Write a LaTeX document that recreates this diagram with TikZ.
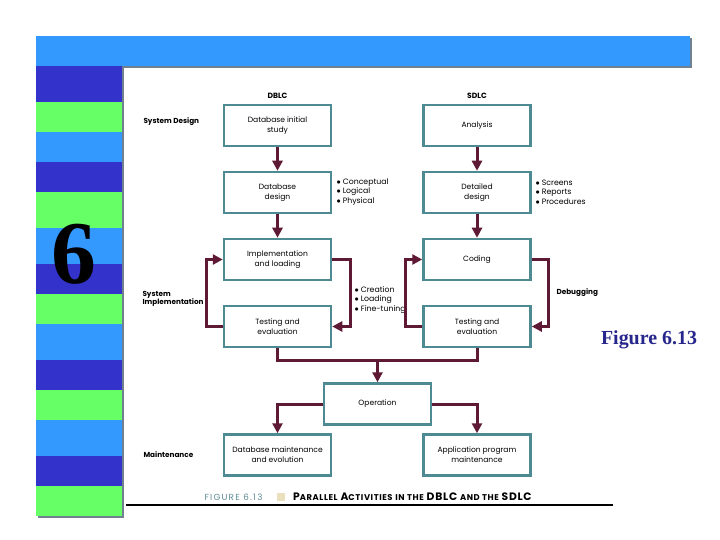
\documentclass[tikz,border=0pt]{standalone}
\usepackage{fontspec}
\setmainfont{Poppins}
\newfontfamily\timesfont{Liberation Serif}
\usetikzlibrary{arrows.meta}
\definecolor{barblue}{RGB}{51,153,255}
\definecolor{darkblue}{RGB}{51,51,204}
\definecolor{stripegreen}{RGB}{102,255,102}
\definecolor{shadowgray}{RGB}{112,128,144}
\definecolor{boxteal}{RGB}{78,138,146}
\definecolor{arrowred}{RGB}{94,26,52}
\definecolor{navytext}{RGB}{38,38,140}
\definecolor{captionteal}{RGB}{92,140,150}
\definecolor{tagbeige}{RGB}{234,224,190}
\newcommand{\capword}[2]{{\fontsize{10.8}{10}\selectfont #1}{\fontsize{8.4}{10}\selectfont #2}}

\begin{document}
\begin{tikzpicture}[x=1bp, y=-1bp,
		stage/.style={draw=boxteal, line width=2.5bp, fill=white, minimum width=107bp, minimum height=41bp, inner sep=0pt, align=center, font=\fontsize{7.6}{10}\selectfont},
		flow/.style={draw=arrowred, line width=3bp, -{Triangle[length=10bp, width=10bp]}},
		link/.style={draw=arrowred, line width=3bp},
		phase/.style={anchor=west, align=left, font=\fontsize{7.3}{9}\selectfont\bfseries},
		bullets/.style={anchor=west, align=left, font=\fontsize{7.8}{9.5}\selectfont}]
			%%%%% START %%%%%
			\useasboundingbox (0, 0) rectangle (720, 540);
			\fill[white] (0, 0) rectangle (720, 540);
			
			% bar and column, with shadow
			\fill[shadowgray] (38, 38) rectangle (692, 68.5);
			\fill[shadowgray] (38, 68) rectangle (124, 518);
			\fill[barblue] (36, 36) rectangle (690, 66);
			
			\fill[darkblue] (36, 66) rectangle (122, 102);
			\fill[stripegreen] (36, 102) rectangle (122, 132);
			\fill[barblue] (36, 132) rectangle (122, 162);
			\fill[darkblue] (36, 162) rectangle (122, 192);
			\fill[stripegreen] (36, 192) rectangle (122, 228);
			\fill[barblue] (36, 228) rectangle (122, 264);
			\fill[darkblue] (36, 264) rectangle (122, 294);
			\fill[stripegreen] (36, 294) rectangle (122, 324);
			\fill[barblue] (36, 324) rectangle (122, 360);
			\fill[darkblue] (36, 360) rectangle (122, 390);
			\fill[stripegreen] (36, 390) rectangle (122, 420);
			\fill[barblue] (36, 420) rectangle (122, 456);
			\fill[darkblue] (36, 456) rectangle (122, 486);
			\fill[stripegreen] (36, 486) rectangle (122, 516);
			
			\node[font=\timesfont\bfseries\fontsize{90}{90}\selectfont] (chap) at (74, 254) {6};
			\node[font=\timesfont\bfseries\fontsize{20}{24}\selectfont, text=navytext] (fig) at (649, 340) {Figure 6.13};
			
			% phases
			\node[phase] (design) at (140, 122) {System Design};
			\node[phase] (impl) at (139, 298.5) {System\\[-1pt]Implementation};
			\node[phase] (maint) at (140, 455) {Maintenance};
			
			\node[font=\fontsize{7.6}{8}\selectfont\bfseries] (dblc) at (277.5, 96) {DBLC};
			\node[font=\fontsize{7.6}{8}\selectfont\bfseries] (sdlc) at (477, 96) {SDLC};
			
			% DBLC column
			\node[stage] (db1) at (277.5, 125.5) {Database initial\\study};
			\node[stage] (db2) at (277.5, 192.5) {Database\\design};
			\node[stage] (db3) at (277.5, 259.5) {Implementation\\and loading};
			\node[stage] (db4) at (277.5, 326.5) {Testing and\\evaluation};
			
			% SDLC column
			\node[stage] (sd1) at (477, 125.5) {Analysis};
			\node[stage] (sd2) at (477, 192.5) {Detailed\\design};
			\node[stage] (sd3) at (477, 259.5) {Coding};
			\node[stage] (sd4) at (477, 326.5) {Testing and\\evaluation};
			
			\node[stage] (op) at (377.5, 404) {Operation};
			\node[stage] (dbm) at (277.5, 455) {Database maintenance\\and evolution};
			\node[stage] (apm) at (477, 455) {Application program\\maintenance};
			
			\node[bullets] (dbdesign) at (333, 192) {$\bullet$ Conceptual\\$\bullet$ Logical\\$\bullet$ Physical};
			\node[bullets] (sddesign) at (532, 192) {$\bullet$ Screens\\$\bullet$ Reports\\$\bullet$ Procedures};
			\node[bullets] (dbimpl) at (351, 300) {$\bullet$ Creation\\$\bullet$ Loading\\$\bullet$ Fine-tuning};
			\node[phase] (debug) at (553, 293) {Debugging};
			
			% connectors
			\draw[flow] (db1) -- (db2);
			\draw[flow] (db2) -- (db3);
			\draw[flow] (db3.east) -- ++(18, 0) |- (db4.east);
			\draw[flow] (db4.west) -- ++(-16, 0) |- (db3.west);
			
			\draw[flow] (sd1) -- (sd2);
			\draw[flow] (sd2) -- (sd3);
			\draw[flow] (sd3.east) -- ++(17, 0) |- (sd4.east);
			\draw[flow] (sd4.west) -- ++(-17, 0) |- (sd3.west);
			
			\coordinate (join) at (377.5, 360);
			\draw[link] (db4.south) |- (join) -| (sd4.south);
			\draw[flow] (join) -- (op);
			\draw[flow] (op.west) -| (dbm.north);
			\draw[flow] (op.east) -| (apm.north);
			
			% caption
			\node[anchor=west, text=captionteal, font=\fontsize{8.8}{9}\selectfont\addfontfeature{LetterSpace=14}] (figno) at (201, 497) {FIGURE 6.13};
			\fill[tagbeige] (277, 493) rectangle (285, 501);
			\node[anchor=west, font=\bfseries\addfontfeature{LetterSpace=7}, inner sep=1pt] (figtitle) at (292, 497) {\capword{P}{ARALLEL} \capword{A}{CTIVITIES} \capword{}{IN THE} \capword{DBLC}{} \capword{}{AND THE} \capword{SDLC}{}};
			\draw[line width=1.5bp] (126, 505) -- (613, 505);
			
			%%%%% END %%%%%
		\end{tikzpicture}
\end{document}
